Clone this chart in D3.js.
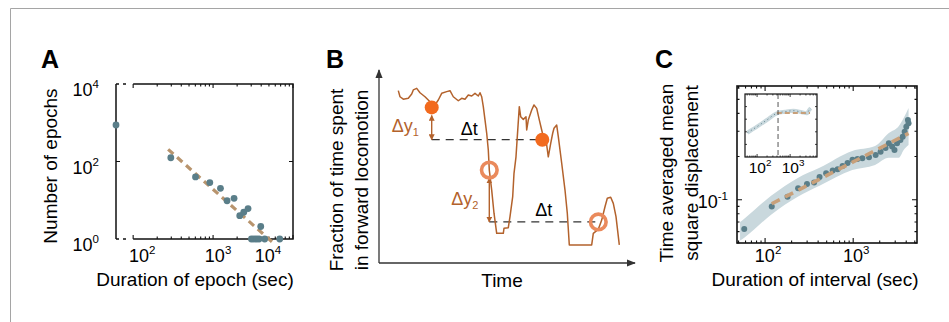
<!DOCTYPE html>
<html>
<head>
<meta charset="utf-8">
<script src="https://cdn.jsdelivr.net/npm/d3@7"></script>
<style>
body { margin: 0; background: #fff; }
svg { display: block; font-family: "Liberation Sans", Arial, Helvetica, sans-serif; }
</style>
</head>
<body>
<svg id="fig" width="949" height="322"></svg>
<script>
// ---- panel A: epoch durations vs counts
var aDuration = [61, 296, 603, 910, 1237, 1496, 1830, 2156, 2420, 2738, 3947, 3020, 3253, 3487, 3758, 4426, 6821];
var aCount = [875, 125, 40, 28.5, 20.3, 9.7, 11.2, 4.0, 4.9, 6.1, 2.1, 1, 1, 1, 1, 1, 1];
var aFitDuration = [274, 5623];
var aFitCount = [206, 0.8];
var aXTicks = [1e2, 1e3, 1e4];
var aYTicks = [1, 1e2, 1e4];

// ---- panel B: schematic trace (time, fraction)
var bTime = [7.72, 8.4, 9.72, 11.72, 13.08, 13.72, 15.08, 16.4, 18.4, 20.4, 22.4, 23.72, 25.08, 27.08, 28.4, 29.72,
	31.72, 33.08, 34.4, 35.72, 37.08, 38.4, 39.72, 40.4, 41.08, 41.72, 42.4, 43.08, 43.72, 44.12, 45.08, 46.0, 47.08,
	49.72, 50.0, 51.72, 52.4, 53.48, 54.0, 54.8, 55.32, 56.12, 56.68, 57.72, 58.8, 59.08, 59.72, 61.08, 62.0, 63.08,
	64.12, 65.08, 65.72, 67.08, 67.72, 68.68, 69.48, 70.0, 71.08, 71.72, 73.08, 74.4, 75.32, 76.12, 85.08, 85.72,
	87.72, 89.08, 90.4, 91.32, 92.68, 93.72, 94.8, 96.12];
var bFraction = [0.907, 0.875, 0.862, 0.867, 0.889, 0.911, 0.919, 0.896, 0.875, 0.849, 0.832, 0.858, 0.893, 0.902, 0.907, 0.875,
	0.854, 0.867, 0.862, 0.884, 0.879, 0.893, 0.879, 0.896, 0.875, 0.823, 0.753, 0.683, 0.595, 0.489, 0.384, 0.262, 0.156,
	0.156, 0.183, 0.186, 0.244, 0.349, 0.472, 0.559, 0.665, 0.823, 0.770, 0.756, 0.770, 0.700, 0.753, 0.805, 0.832, 0.814,
	0.753, 0.700, 0.665, 0.621, 0.559, 0.630, 0.683, 0.709, 0.726, 0.665, 0.525, 0.384, 0.262, 0.095, 0.095, 0.156,
	0.177, 0.226, 0.296, 0.341, 0.346, 0.314, 0.244, 0.095];
var bFilledT = [21.08, 65.32];
var bFilledF = [0.819, 0.649];
var bOpenT = [44.12, 87.72];
var bOpenF = [0.489, 0.216];

// ---- panel C: time averaged MSD
var cInterval = [58, 119, 180, 237, 299, 360, 415, 493, 585, 666, 758, 863, 982, 1117, 1271, 1512, 1798, 2047, 2330,
	2537, 2766, 2942, 3148, 3437, 3648, 3838, 4010, 4180, 4250];
var cMsd = [0.0626, 0.0899, 0.105, 0.1205, 0.129, 0.132, 0.144, 0.153, 0.160, 0.163, 0.172, 0.180, 0.190, 0.192, 0.195,
	0.198, 0.205, 0.216, 0.229, 0.248, 0.235, 0.222, 0.248, 0.261, 0.275, 0.298, 0.323, 0.359, 0.341];
var cBandX = [52, 58, 117, 235, 415, 976, 1770, 2540, 3300, 3740, 4250];
var cBandHi = [0.07, 0.0738, 0.1066, 0.142, 0.167, 0.219, 0.237, 0.292, 0.327, 0.371, 0.435];
var cBandLo = [0.052, 0.0545, 0.0787, 0.105, 0.125, 0.161, 0.175, 0.196, 0.196, 0.222, 0.241];
var cFitX = [119, 4250];
var cFitY = [0.0938, 0.290];
var cXTicks = [1e2, 1e3];
var cYTicks = [0.1];
// inset
var ciInterval = [51, 99, 197, 395, 705, 1260, 2263, 3206, 3767, 4240];
var ciMsd = [0.386, 0.481, 0.587, 0.694, 0.719, 0.735, 0.71, 0.694, 0.746, 0.773];
var ciFitX = [395, 4000];
var ciFitY = [0.70, 0.70];
var ciCut = 430;
var ciXTicks = [1e2, 1e3];

var ink = "#111";
var teal = "#5a7e89";
var tan = "#b8946d";
var brown = "#b3622c";
var labelSize = 19;
var tickSize = 18;

var svg = d3.select("#fig");

// outer frame
svg.append("path").attr("d", "M10.5,322V8.5H949").attr("fill", "none").attr("stroke", "#a5a5a5").attr("stroke-width", 1);

function panelLetter(x, y, t) {
	svg.append("text").attr("x", x).attr("y", y).attr("font-size", 25).attr("font-weight", "bold").text(t);
}

function powLabel(sel, exp, size) {
	sel.append("tspan").text("10");
	sel.append("tspan").attr("dy", -size * 0.42).attr("font-size", size * 0.64).text(exp);
}

function isMajor(v) {
	var l = Math.log10(v);
	return Math.abs(l - Math.round(l)) < 1e-9;
}

// =================== A ===================
panelLetter(41, 68, "A");
var aX = d3.scaleLog().domain([61, 1e4]).range([116, 293]);
var aY = d3.scaleLog().domain([1, 1e4]).range([239, 84]);
var gA = svg.append("g");

// frame: left line full, top/bottom start at 10^2
gA.append("path")
	.attr("d", "M" + aX(61) + "," + aY(1e4) + "V" + aY(1) +
		"M" + aX(61) + "," + aY(1e4) + "h3M" + aX(61) + "," + aY(1) + "h3" +
		"M" + (aX(61) + 7) + "," + aY(1e4) + "h3M" + (aX(61) + 7) + "," + aY(1) + "h3" +
		"M" + aX(1e2) + "," + aY(1e4) + "H" + aX(1e4) + "V" + aY(1) + "H" + aX(1e2))
	.attr("fill", "none").attr("stroke", ink).attr("stroke-width", 1.5);

aX.ticks().filter(function (v) { return v >= 100 && v <= 1e4; }).forEach(function (v) {
	var len = isMajor(v) ? 4 : 2.5;
	gA.append("path").attr("d", "M" + aX(v) + "," + aY(1) + "v" + (-len) + "M" + aX(v) + "," + aY(1e4) + "v" + len)
		.attr("stroke", ink).attr("stroke-width", 1.1);
});
gA.append("path").attr("d", "M" + aX(61) + "," + aY(100) + "h4M" + aX(1e4) + "," + aY(100) + "h-4")
	.attr("stroke", ink).attr("stroke-width", 1.2);

var aXOffset = [9, 5, -25];
aXTicks.forEach(function (v, i) {
	var t = gA.append("text").attr("x", aX(v) + aXOffset[i]).attr("y", 262).attr("text-anchor", "middle").attr("font-size", tickSize);
	powLabel(t, Math.log10(v), tickSize);
});
aYTicks.forEach(function (v) {
	var t = gA.append("text").attr("x", 99).attr("y", aY(v) + 12).attr("text-anchor", "end").attr("font-size", tickSize);
	powLabel(t, Math.log10(v), tickSize);
});

gA.append("path")
	.attr("d", d3.line().x(function (d) { return aX(d[0]); }).y(function (d) { return aY(d[1]); })(d3.zip(aFitDuration, aFitCount)))
	.attr("stroke", tan).attr("stroke-width", 3.2).attr("stroke-dasharray", "7,5").attr("fill", "none");

gA.selectAll("circle.pt").data(d3.zip(aDuration, aCount)).enter().append("circle")
	.attr("cx", function (d) { return aX(d[0]); })
	.attr("cy", function (d) { return aY(d[1]); })
	.attr("r", 3.4).attr("fill", teal);

gA.append("text").attr("x", 195).attr("y", 286).attr("text-anchor", "middle").attr("font-size", labelSize).text("Duration of epoch (sec)");
gA.append("text").attr("transform", "translate(57,166) rotate(-90)").attr("text-anchor", "middle").attr("font-size", labelSize).text("Number of epochs");

// =================== B ===================
panelLetter(326, 68, "B");
var bX = d3.scaleLinear().domain([0, 102.4]).range([379, 635]);
var bY = d3.scaleLinear().domain([0, 1]).range([263, 73]);
var gB = svg.append("g");

var defs = svg.append("defs");
defs.append("marker").attr("id", "axhead").attr("viewBox", "0 0 10 10").attr("refX", 9).attr("refY", 5)
	.attr("markerWidth", 9).attr("markerHeight", 9).attr("markerUnits", "userSpaceOnUse").attr("orient", "auto")
	.append("path").attr("d", "M0,1L10,5L0,9z").attr("fill", "#333");
defs.append("marker").attr("id", "brhead").attr("viewBox", "0 0 10 10").attr("refX", 9).attr("refY", 5)
	.attr("markerWidth", 6).attr("markerHeight", 6).attr("markerUnits", "userSpaceOnUse").attr("orient", "auto-start-reverse")
	.append("path").attr("d", "M0,0L10,5L0,10z").attr("fill", brown);

gB.append("line").attr("x1", bX(0)).attr("y1", bY(0)).attr("x2", bX(0)).attr("y2", bY(1.016))
	.attr("stroke", "#333").attr("stroke-width", 1.3).attr("marker-end", "url(#axhead)");
gB.append("line").attr("x1", bX(0)).attr("y1", bY(0)).attr("x2", bX(102.4)).attr("y2", bY(0))
	.attr("stroke", "#333").attr("stroke-width", 1.3).attr("marker-end", "url(#axhead)");

// dashed reference lines
[[bFilledT[0], bFilledT[1], bFilledF[1]], [bOpenT[0], bOpenT[1], bOpenF[1]]].forEach(function (d) {
	gB.append("line").attr("x1", bX(d[0])).attr("x2", bX(d[1])).attr("y1", bY(d[2])).attr("y2", bY(d[2]))
		.attr("stroke", "#333").attr("stroke-width", 1.3).attr("stroke-dasharray", "8,6");
});

gB.append("path")
	.attr("d", d3.line().x(function (d) { return bX(d[0]); }).y(function (d) { return bY(d[1]); })(d3.zip(bTime, bFraction)))
	.attr("stroke", brown).attr("stroke-width", 1.5).attr("fill", "none").attr("stroke-linejoin", "round");

// delta-y arrows
gB.append("line").attr("x1", bX(bFilledT[0])).attr("x2", bX(bFilledT[0]))
	.attr("y1", bY(bFilledF[0]) + 8).attr("y2", bY(bFilledF[1]))
	.attr("stroke", brown).attr("stroke-width", 1.4).attr("marker-start", "url(#brhead)").attr("marker-end", "url(#brhead)");
gB.append("line").attr("x1", bX(bOpenT[0])).attr("x2", bX(bOpenT[0]))
	.attr("y1", bY(bOpenF[0]) + 8).attr("y2", bY(bOpenF[1]))
	.attr("stroke", brown).attr("stroke-width", 1.4).attr("marker-start", "url(#brhead)").attr("marker-end", "url(#brhead)");

gB.selectAll("circle.f").data(d3.zip(bFilledT, bFilledF)).enter().append("circle")
	.attr("cx", function (d) { return bX(d[0]); }).attr("cy", function (d) { return bY(d[1]); })
	.attr("r", 7).attr("fill", "#f26a1e");
gB.selectAll("circle.o").data(d3.zip(bOpenT, bOpenF)).enter().append("circle")
	.attr("cx", function (d) { return bX(d[0]); }).attr("cy", function (d) { return bY(d[1]); })
	.attr("r", 7.8).attr("fill", "none").attr("stroke", "#ea8a5c").attr("stroke-width", 3.6);

function deltaY(x, y, sub) {
	var t = gB.append("text").attr("x", x).attr("y", y).attr("font-size", 18).attr("fill", brown);
	t.append("tspan").text("\u0394y");
	t.append("tspan").attr("dy", 4).attr("font-size", 11).text(sub);
}
deltaY(bX(bFilledT[0]) - 40, bY(bFilledF[1]) - 8, "1");
deltaY(bX(bOpenT[0]) - 38, bY(bOpenF[1]) - 17, "2");
gB.append("text").attr("x", bX(bFilledT[0]) + 29).attr("y", bY(bFilledF[1]) - 5).attr("font-size", 18).text("\u0394t");
gB.append("text").attr("x", bX(bOpenT[0]) + 46).attr("y", bY(bOpenF[1]) - 6).attr("font-size", 18).text("\u0394t");

gB.append("text").attr("x", 502).attr("y", 287).attr("text-anchor", "middle").attr("font-size", labelSize).text("Time");
gB.append("text").attr("transform", "translate(343,180) rotate(-90)").attr("text-anchor", "middle").attr("font-size", labelSize).text("Fraction of time spent");
gB.append("text").attr("transform", "translate(368,180) rotate(-90)").attr("text-anchor", "middle").attr("font-size", labelSize).text("in forward locomotion");

// =================== C ===================
panelLetter(655, 68, "C");
var cX = d3.scaleLog().domain([48, 5300]).range([737, 917]);
var cY = d3.scaleLog().domain([0.05, 0.62]).range([243, 86]);
var gC = svg.append("g");

gC.append("path")
	.attr("d", d3.area().curve(d3.curveMonotoneX)
		.x(function (d) { return cX(d[0]); }).y0(function (d) { return cY(d[1]); }).y1(function (d) { return cY(d[2]); })
		(d3.zip(cBandX, cBandLo, cBandHi)))
	.attr("fill", "#c9d8dd");

gC.selectAll("circle.pt").data(d3.zip(cInterval, cMsd)).enter().append("circle")
	.attr("cx", function (d) { return cX(d[0]); }).attr("cy", function (d) { return cY(d[1]); })
	.attr("r", 3).attr("fill", teal);

gC.append("path")
	.attr("d", d3.line().x(function (d) { return cX(d[0]); }).y(function (d) { return cY(d[1]); })(d3.zip(cFitX, cFitY)))
	.attr("stroke", "#c8a07a").attr("stroke-width", 3.6).attr("stroke-dasharray", "9,6").attr("fill", "none");

gC.append("rect").attr("x", cX(48)).attr("y", cY(0.62)).attr("width", cX(5300) - cX(48)).attr("height", cY(0.05) - cY(0.62))
	.attr("fill", "none").attr("stroke", ink).attr("stroke-width", 1.6);

cX.ticks().forEach(function (v) {
	var len = isMajor(v) ? 5 : 2.5;
	gC.append("path").attr("d", "M" + cX(v) + "," + cY(0.05) + "v" + (-len) + "M" + cX(v) + "," + cY(0.62) + "v" + len)
		.attr("stroke", ink).attr("stroke-width", 1.1);
});
cY.ticks().forEach(function (v) {
	var len = isMajor(v) ? 5 : 2.5;
	gC.append("path").attr("d", "M" + cX(48) + "," + cY(v) + "h" + len + "M" + cX(5300) + "," + cY(v) + "h" + (-len))
		.attr("stroke", ink).attr("stroke-width", 1.1);
});

cXTicks.forEach(function (v) {
	var t = gC.append("text").attr("x", cX(v) + 3).attr("y", 262).attr("text-anchor", "middle").attr("font-size", tickSize);
	powLabel(t, Math.log10(v), tickSize);
});
cYTicks.forEach(function (v) {
	var t = gC.append("text").attr("x", 728).attr("y", cY(v) + 8).attr("text-anchor", "end").attr("font-size", tickSize);
	powLabel(t, "-1", tickSize);
});

// inset
var ciX = d3.scaleLog().domain([43, 6500]).range([745, 817]);
var ciY = d3.scaleLinear().domain([0, 1]).range([157, 94]);
var gI = gC.append("g");
gI.append("rect").attr("x", 745).attr("y", 94).attr("width", 72).attr("height", 63).attr("fill", "#fff");
gI.append("path")
	.attr("d", d3.line().curve(d3.curveMonotoneX).x(function (d) { return ciX(d[0]); }).y(function (d) { return ciY(d[1]); })(d3.zip(ciInterval, ciMsd)))
	.attr("stroke", "#c9d8dd").attr("stroke-width", 4).attr("fill", "none");
gI.append("path")
	.attr("d", d3.line().curve(d3.curveMonotoneX).x(function (d) { return ciX(d[0]); }).y(function (d) { return ciY(d[1]); })(d3.zip(ciInterval, ciMsd)))
	.attr("stroke", teal).attr("stroke-width", 1).attr("stroke-dasharray", "1,3").attr("fill", "none");
gI.append("path")
	.attr("d", d3.line().x(function (d) { return ciX(d[0]); }).y(function (d) { return ciY(d[1]); })(d3.zip(ciFitX, ciFitY)))
	.attr("stroke", "#c8a07a").attr("stroke-width", 2).attr("stroke-dasharray", "5,3").attr("fill", "none");
gI.append("line").attr("x1", ciX(ciCut)).attr("x2", ciX(ciCut)).attr("y1", 94).attr("y2", 157)
	.attr("stroke", "#555").attr("stroke-width", 1).attr("stroke-dasharray", "5,3");
gI.append("rect").attr("x", 745).attr("y", 94).attr("width", 72).attr("height", 63)
	.attr("fill", "none").attr("stroke", ink).attr("stroke-width", 1.2);
ciX.ticks().forEach(function (v) {
	var len = isMajor(v) ? 3 : 1.5;
	gI.append("path").attr("d", "M" + ciX(v) + ",157v" + (-len) + "M" + ciX(v) + ",94v" + len)
		.attr("stroke", ink).attr("stroke-width", 0.8);
});
[0.2, 0.4, 0.6, 0.8].forEach(function (v) {
	gI.append("path").attr("d", "M745," + ciY(v) + "h2M817," + ciY(v) + "h-2").attr("stroke", ink).attr("stroke-width", 0.8);
});
ciXTicks.forEach(function (v) {
	var t = gI.append("text").attr("x", ciX(v) + 3).attr("y", 173).attr("text-anchor", "middle").attr("font-size", 15.5);
	powLabel(t, Math.log10(v), 15.5);
});

gC.append("text").attr("x", 815).attr("y", 286).attr("text-anchor", "middle").attr("font-size", labelSize).text("Duration of interval (sec)");
gC.append("text").attr("transform", "translate(673,173) rotate(-90)").attr("text-anchor", "middle").attr("font-size", labelSize).text("Time averaged mean");
gC.append("text").attr("transform", "translate(698,173) rotate(-90)").attr("text-anchor", "middle").attr("font-size", labelSize).text("square displacement");
</script>
</body>
</html>
